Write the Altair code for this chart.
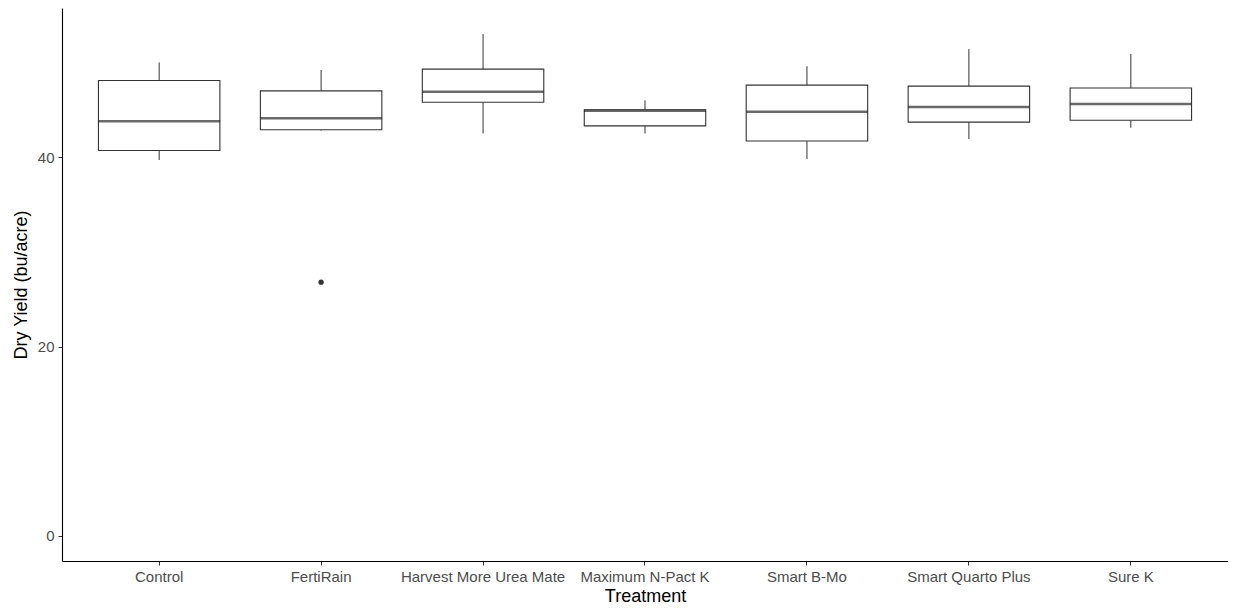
import altair as alt
import pandas as pd

treatments = ["Control", "FertiRain", "Harvest More Urea Mate", "Maximum N-Pact K",
              "Smart B-Mo", "Smart Quarto Plus", "Sure K"]
lower_whisker = [39.7, 42.8, 42.5, 42.5, 39.8, 41.9, 43.1]
q1 = [40.7, 42.9, 45.8, 43.3, 41.7, 43.7, 43.9]
median = [43.8, 44.1, 46.9, 44.9, 44.8, 45.3, 45.6]
q3 = [48.1, 47.0, 49.3, 45.0, 47.6, 47.5, 47.3]
upper_whisker = [50.0, 49.2, 53.0, 46.0, 49.6, 51.4, 50.9]
outlier_treatment = ["FertiRain"]
outlier_value = [26.8]

df = pd.DataFrame({"Treatment": treatments, "lw": lower_whisker, "q1": q1,
                   "med": median, "q3": q3, "uw": upper_whisker})
out = pd.DataFrame({"Treatment": outlier_treatment, "v": outlier_value})

W, H = 1166, 553
x = alt.X("Treatment:N", sort=treatments,
          scale=alt.Scale(paddingInner=0, paddingOuter=0.1),
          axis=alt.Axis(title="Treatment", labelAngle=0))
yscale = alt.Scale(domain=[-2.65, 55.75], nice=False, zero=False)
yaxis = alt.Axis(title="Dry Yield (bu/acre)", values=[0, 20, 40])
col = "#333333"

whisk_lo = alt.Chart(df).mark_rule(color=col, strokeWidth=1).encode(
    x=x, y=alt.Y("lw:Q", scale=yscale, axis=yaxis), y2="q1:Q")
whisk_hi = alt.Chart(df).mark_rule(color=col, strokeWidth=1).encode(
    x=x, y=alt.Y("q3:Q", scale=yscale, axis=yaxis), y2="uw:Q")
box = alt.Chart(df).mark_bar(fill="white", stroke=col, strokeWidth=1.1,
                             width=alt.RelativeBandSize(0.75)).encode(
    x=x, y=alt.Y("q1:Q", scale=yscale, axis=yaxis), y2="q3:Q")
med = alt.Chart(df).mark_tick(color="#2b2b2b", thickness=2.5, size=122).encode(
    x=x, y=alt.Y("med:Q", scale=yscale, axis=yaxis))
pts = alt.Chart(out).mark_circle(color=col, size=28, opacity=1).encode(
    x=x, y=alt.Y("v:Q", scale=yscale, axis=yaxis))

chart = alt.layer(whisk_lo, whisk_hi, box, med, pts).properties(
    width=W, height=H, padding={"left": 4, "top": 0, "right": 0, "bottom": 0}
).configure_view(stroke=None).configure_axis(
    grid=False, domainColor="#000000", domainWidth=1.1, tickColor="#333333",
    tickSize=4, labelColor="#4D4D4D", labelFont="Liberation Sans", labelFontSize=15,
    titleFont="Liberation Sans", titleFontSize=18, titleFontWeight="normal",
    titleColor="#000000", labelPadding=4
).configure_axisX(titlePadding=3).configure_axisY(titlePadding=7)

chart.save("out.html", embed_options={"renderer": "svg", "actions": False})
